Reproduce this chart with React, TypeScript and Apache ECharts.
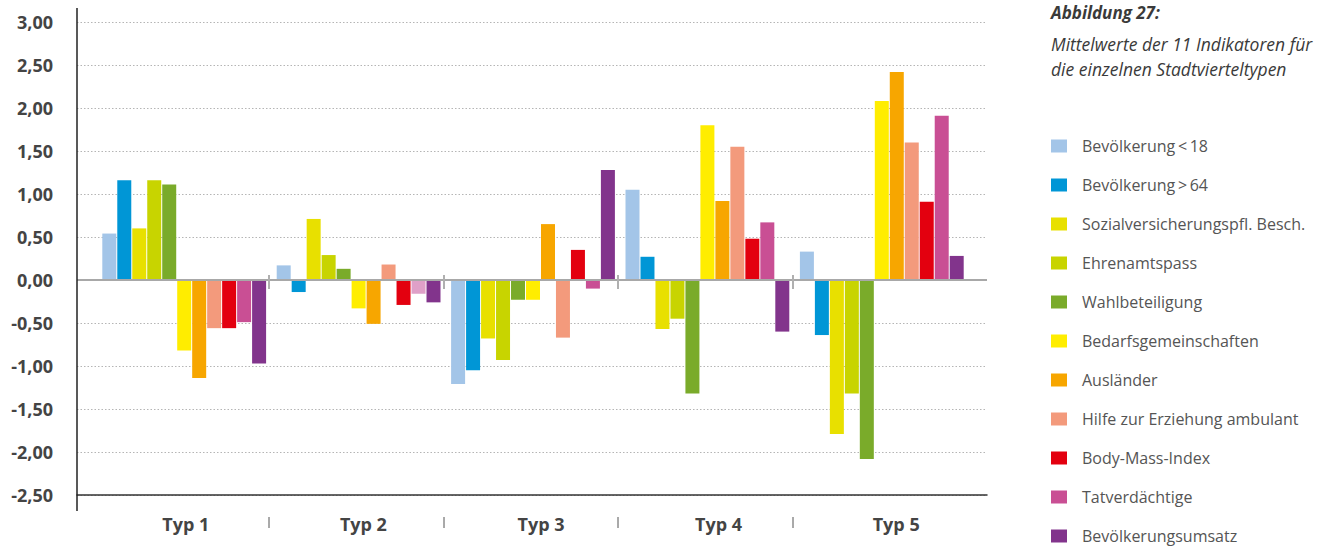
import React, { useEffect, useRef } from 'react';
import * as echarts from 'echarts';

// ---------- data ----------
const categories = ['Typ 1', 'Typ 2', 'Typ 3', 'Typ 4', 'Typ 5'];
const seriesNames = [
  'Bevölkerung\u2009<\u200918',
  'Bevölkerung\u2009>\u200964',
  'Sozialversicherungspfl. Besch.',
  'Ehrenamtspass',
  'Wahlbeteiligung',
  'Bedarfsgemeinschaften',
  'Ausländer',
  'Hilfe zur Erziehung ambulant',
  'Body-Mass-Index',
  'Tatverdächtige',
  'Bevölkerungsumsatz',
];
const bevUnter18 = [0.54, 0.17, -1.21, 1.05, 0.33];
const bevUeber64 = [1.16, -0.14, -1.05, 0.27, -0.64];
const sozialversicherung = [0.6, 0.71, -0.68, -0.57, -1.79];
const ehrenamtspass = [1.16, 0.29, -0.93, -0.45, -1.32];
const wahlbeteiligung = [1.11, 0.13, -0.23, -1.32, -2.08];
const bedarfsgemeinschaften = [-0.82, -0.33, -0.23, 1.8, 2.08];
const auslaender = [-1.14, -0.51, 0.65, 0.92, 2.42];
const hilfeErziehung = [-0.56, 0.18, -0.67, 1.55, 1.6];
const bodyMassIndex = [-0.56, -0.29, 0.35, 0.48, 0.91];
const tatverdaechtige = [-0.49, -0.16, -0.1, 0.67, 1.91];
const bevUmsatz = [-0.97, -0.26, 1.28, -0.6, 0.28];
const seriesValues = [
  bevUnter18, bevUeber64, sozialversicherung, ehrenamtspass, wahlbeteiligung,
  bedarfsgemeinschaften, auslaender, hilfeErziehung, bodyMassIndex, tatverdaechtige, bevUmsatz,
];
const yMin = -2.5;
const yMax = 3;
const yStep = 0.5;

// ---------- styles ----------
const colors = [
  '#a3c5e8', '#0096d6', '#e8e000', '#c8d400', '#7aab2a',
  '#ffed00', '#f7a600', '#f39a7c', '#e3000f', '#c94f94', '#82348c',
];
const fadedTatColor = '#dfa0c8';
const fadedTatIndex = 1; // Typ 2 bar is drawn in a paler tone

const FONT = '"Open Sans", "Noto Sans", sans-serif';
const G_TOP = 22;
const G_HEIGHT = 473;
const BG_LEFT = 77;
const BG_WIDTH = 910;
const BAR_LEFT = 97;
const BAR_WIDTH = 872;
const LBL_LEFT = 97;
const LBL_WIDTH = 888;

const fmt = (v: number) => v.toFixed(2).replace('.', ',');

export default function App() {
  const ref = useRef<HTMLDivElement>(null);
  useEffect(() => {
    if (!ref.current) return;
    const chart = echarts.init(ref.current, undefined, { renderer: 'svg' });
    const hiddenY = (gi: number) => ({
      type: 'value', gridIndex: gi, min: yMin, max: yMax, interval: yStep,
      axisLine: { show: false }, axisTick: { show: false }, axisLabel: { show: false }, splitLine: { show: false },
    });
    const option: any = {
      animation: false,
      backgroundColor: '#ffffff',
      textStyle: { fontFamily: FONT },
      title: {
        left: 1051,
        top: 2,
        padding: 0,
        text: 'Abbildung 27:',
        subtext: 'Mittelwerte der 11 Indikatoren für\ndie einzelnen Stadtvierteltypen',
        itemGap: 9,
        textStyle: { fontFamily: FONT, fontSize: 17, fontWeight: 'bold', fontStyle: 'italic', color: '#3a3a3a', lineHeight: 20 },
        subtextStyle: { fontFamily: FONT, fontSize: 17.5, fontStyle: 'italic', color: '#3a3a3a', lineHeight: 25 },
      },
      legend: {
        orient: 'vertical',
        left: 1051,
        top: 136,
        height: 430,
        padding: 0,
        itemWidth: 16,
        itemHeight: 13,
        itemGap: 19,
        icon: 'rect',
        data: seriesNames,
        textStyle: { fontFamily: FONT, fontSize: 16, color: '#555555', lineHeight: 20, padding: [0, 0, 0, 10] },
      },
      grid: [
        { left: BG_LEFT, top: G_TOP, width: BG_WIDTH, height: G_HEIGHT },
        { left: BAR_LEFT, top: G_TOP, width: BAR_WIDTH, height: G_HEIGHT },
        { left: LBL_LEFT, top: G_TOP, width: LBL_WIDTH, height: G_HEIGHT },
      ],
      xAxis: [
        {
          type: 'category', gridIndex: 0, data: categories,
          axisLine: { show: true, onZero: false, lineStyle: { color: '#333333', width: 1.5 } },
          axisTick: { show: false }, axisLabel: { show: false }, splitLine: { show: false },
        },
        {
          type: 'category', gridIndex: 1, data: categories,
          axisLine: { show: false }, axisTick: { show: false }, axisLabel: { show: false },
        },
        {
          type: 'category', gridIndex: 2, data: categories,
          axisLine: { show: false }, axisTick: { show: false },
          axisLabel: { show: true, margin: 20, fontFamily: FONT, fontSize: 18, fontWeight: 'bold', color: '#444444' },
        },
      ],
      yAxis: [
        {
          type: 'value', gridIndex: 0, min: yMin, max: yMax, interval: yStep,
          axisLine: { show: false }, axisTick: { show: false },
          axisLabel: { margin: 24, formatter: fmt, fontFamily: FONT, fontSize: 18, fontWeight: 'bold', color: '#444444' },
          splitLine: { show: true, lineStyle: { color: '#b5b5b5', type: [1.5, 2], width: 1 } },
        },
        hiddenY(1),
        hiddenY(2),
      ],
      series: [
        {
          type: 'line', xAxisIndex: 0, yAxisIndex: 0, data: [], silent: true,
          markLine: {
            silent: true, symbol: 'none', label: { show: false },
            lineStyle: { color: '#a8a8a8', width: 2, type: 'solid' },
            data: [{ yAxis: 0 }],
          },
        },
        ...seriesNames.map((name, si) => ({
          name,
          type: 'bar',
          xAxisIndex: 1,
          yAxisIndex: 1,
          barWidth: 14,
          barGap: '7%',
          itemStyle: { color: colors[si] },
          data: seriesValues[si].map((v, ci) =>
            name === 'Tatverdächtige' && ci === fadedTatIndex
              ? { value: v, itemStyle: { color: fadedTatColor } }
              : v),
        })),
      ],
    };
    chart.setOption(option);

    // decorations: boundary ticks computed from the bar axis
    const centers = categories.map((c) => chart.convertToPixel({ xAxisIndex: 1 }, c) as number);
    const zeroY = chart.convertToPixel({ yAxisIndex: 1 }, 0) as number;
    const bottomY = chart.convertToPixel({ yAxisIndex: 0 }, yMin) as number;
    const graphics: any[] = [
      {
        type: 'line', z: 10,
        shape: { x1: BG_LEFT, y1: 8, x2: BG_LEFT, y2: bottomY + 16 },
        style: { stroke: '#222222', lineWidth: 1.5 },
      },
    ];
    for (let i = 0; i < centers.length - 1; i++) {
      const bx = Math.round((centers[i] + centers[i + 1]) / 2) - 2;
      graphics.push({
        type: 'line', z: 10,
        shape: { x1: bx, y1: zeroY - 5, x2: bx, y2: zeroY + 9 },
        style: { stroke: '#b0b0b0', lineWidth: 2 },
      });
      graphics.push({
        type: 'line', z: 10,
        shape: { x1: bx, y1: bottomY + 22, x2: bx, y2: bottomY + 33 },
        style: { stroke: '#555555', lineWidth: 1 },
      });
    }
    chart.setOption({ graphic: graphics });

    return () => chart.dispose();
  }, []);
  return (
    <div
      ref={ref}
      style={{ position: 'absolute', left: 0, top: 0, width: 1317, height: 547 }}
    />
  );
}
